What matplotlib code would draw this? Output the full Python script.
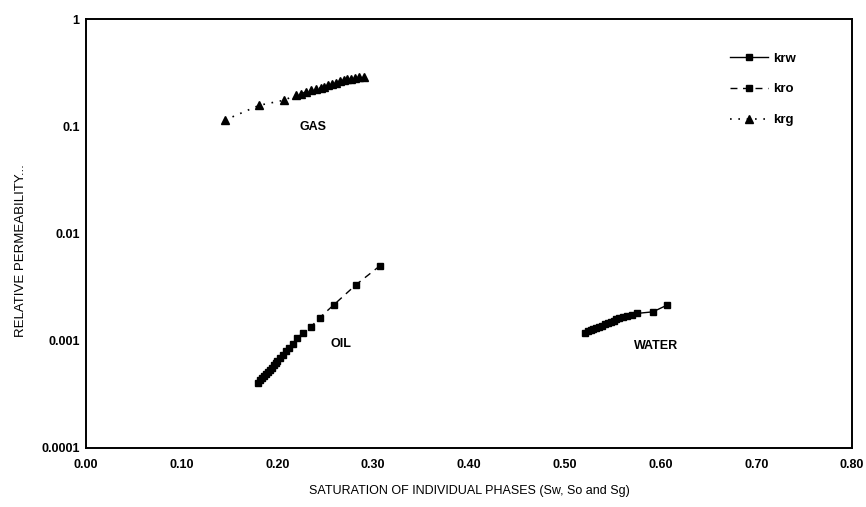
import matplotlib

matplotlib.use("Agg")
import matplotlib.pyplot as plt

# Relative permeability versus saturation of each phase
sw = [0.521, 0.524, 0.527, 0.530, 0.533, 0.536, 0.539, 0.542, 0.545, 0.548,
      0.551, 0.554, 0.557, 0.561, 0.565, 0.570, 0.576, 0.592, 0.607]
krw = [1.19e-3, 1.22e-3, 1.25e-3, 1.28e-3, 1.31e-3, 1.35e-3, 1.38e-3, 1.42e-3,
       1.46e-3, 1.50e-3, 1.54e-3, 1.58e-3, 1.62e-3, 1.66e-3, 1.70e-3, 1.75e-3,
       1.80e-3, 1.86e-3, 2.15e-3]

so = [0.180, 0.182, 0.184, 0.186, 0.188, 0.190, 0.192, 0.194, 0.196, 0.198,
      0.200, 0.203, 0.206, 0.209, 0.212, 0.216, 0.220, 0.227, 0.235, 0.244,
      0.259, 0.282, 0.307]
kro = [4.07e-4, 4.27e-4, 4.47e-4, 4.68e-4, 4.90e-4, 5.13e-4, 5.37e-4, 5.62e-4,
       5.89e-4, 6.17e-4, 6.46e-4, 6.92e-4, 7.41e-4, 7.94e-4, 8.51e-4, 9.33e-4,
       1.05e-3, 1.19e-3, 1.35e-3, 1.64e-3, 2.17e-3, 3.33e-3, 5.0e-3]

sg = [0.145, 0.181, 0.207, 0.219, 0.225, 0.230, 0.235, 0.240, 0.245, 0.249,
      0.253, 0.257, 0.261, 0.265, 0.269, 0.273, 0.277, 0.281, 0.285, 0.290]
krg = [0.114, 0.157, 0.175, 0.195, 0.202, 0.209, 0.216, 0.222, 0.228, 0.234,
       0.240, 0.246, 0.251, 0.262, 0.268, 0.273, 0.278, 0.282, 0.285, 0.288]

x_ticks = [0.0, 0.1, 0.2, 0.3, 0.4, 0.5, 0.6, 0.7, 0.8]
y_ticks = [0.0001, 0.001, 0.01, 0.1, 1]
y_tick_labels = ["0.0001", "0.001", "0.01", "0.1", "1"]

plt.rcParams["font.family"] = ["Liberation Sans", "DejaVu Sans"]

fig = plt.figure(figsize=(8.66, 5.07), dpi=100)
ax = fig.add_axes([0.0993, 0.1164, 0.8845, 0.8461])

ax.plot(sw, krw, color="black", linestyle="-", linewidth=1.0,
        marker="s", markersize=5, label="krw")
ax.plot(so, kro, color="black", linestyle=(0, (5, 4)), linewidth=1.0,
        marker="s", markersize=5, label="kro")
ax.plot(sg, krg, color="black", linestyle=(0, (1, 4)), linewidth=1.2,
        marker="^", markersize=5.5, label="krg")

ax.set_yscale("log")
ax.set_xlim(0.0, 0.8)
ax.set_ylim(0.0001, 1)
ax.set_xticks(x_ticks)
ax.set_xticklabels([f"{v:.2f}" for v in x_ticks], fontsize=9, fontweight="bold")
ax.set_yticks(y_ticks)
ax.set_yticklabels(y_tick_labels, fontsize=9, fontweight="bold")
ax.yaxis.set_minor_locator(matplotlib.ticker.NullLocator())
ax.tick_params(axis="x", length=0, pad=8)
ax.tick_params(axis="y", length=0, pad=4.5)

for side in ax.spines.values():
    side.set_linewidth(1.4)

ax.set_xlabel("SATURATION OF INDIVIDUAL PHASES (Sw, So and Sg)", fontsize=9,
              labelpad=10)
ax.set_ylabel("RELATIVE PERMEABILITY...", fontsize=9.5)
ax.yaxis.set_label_coords(-0.077, 0.46)

ax.text(0.223, 0.098, "GAS", fontsize=9, fontweight="bold", va="center")
ax.text(0.255, 0.00094, "OIL", fontsize=9, fontweight="bold", va="center")
ax.text(0.572, 0.00090, "WATER", fontsize=9, fontweight="bold", va="center")

ax.legend(loc="upper left", bbox_to_anchor=(0.841, 0.922), frameon=False,
          borderpad=0, borderaxespad=0, handlelength=2.9, handletextpad=0.35,
          labelspacing=1.4, prop={"weight": "bold", "size": 9.5})

fig.savefig("out.png", dpi=100)
